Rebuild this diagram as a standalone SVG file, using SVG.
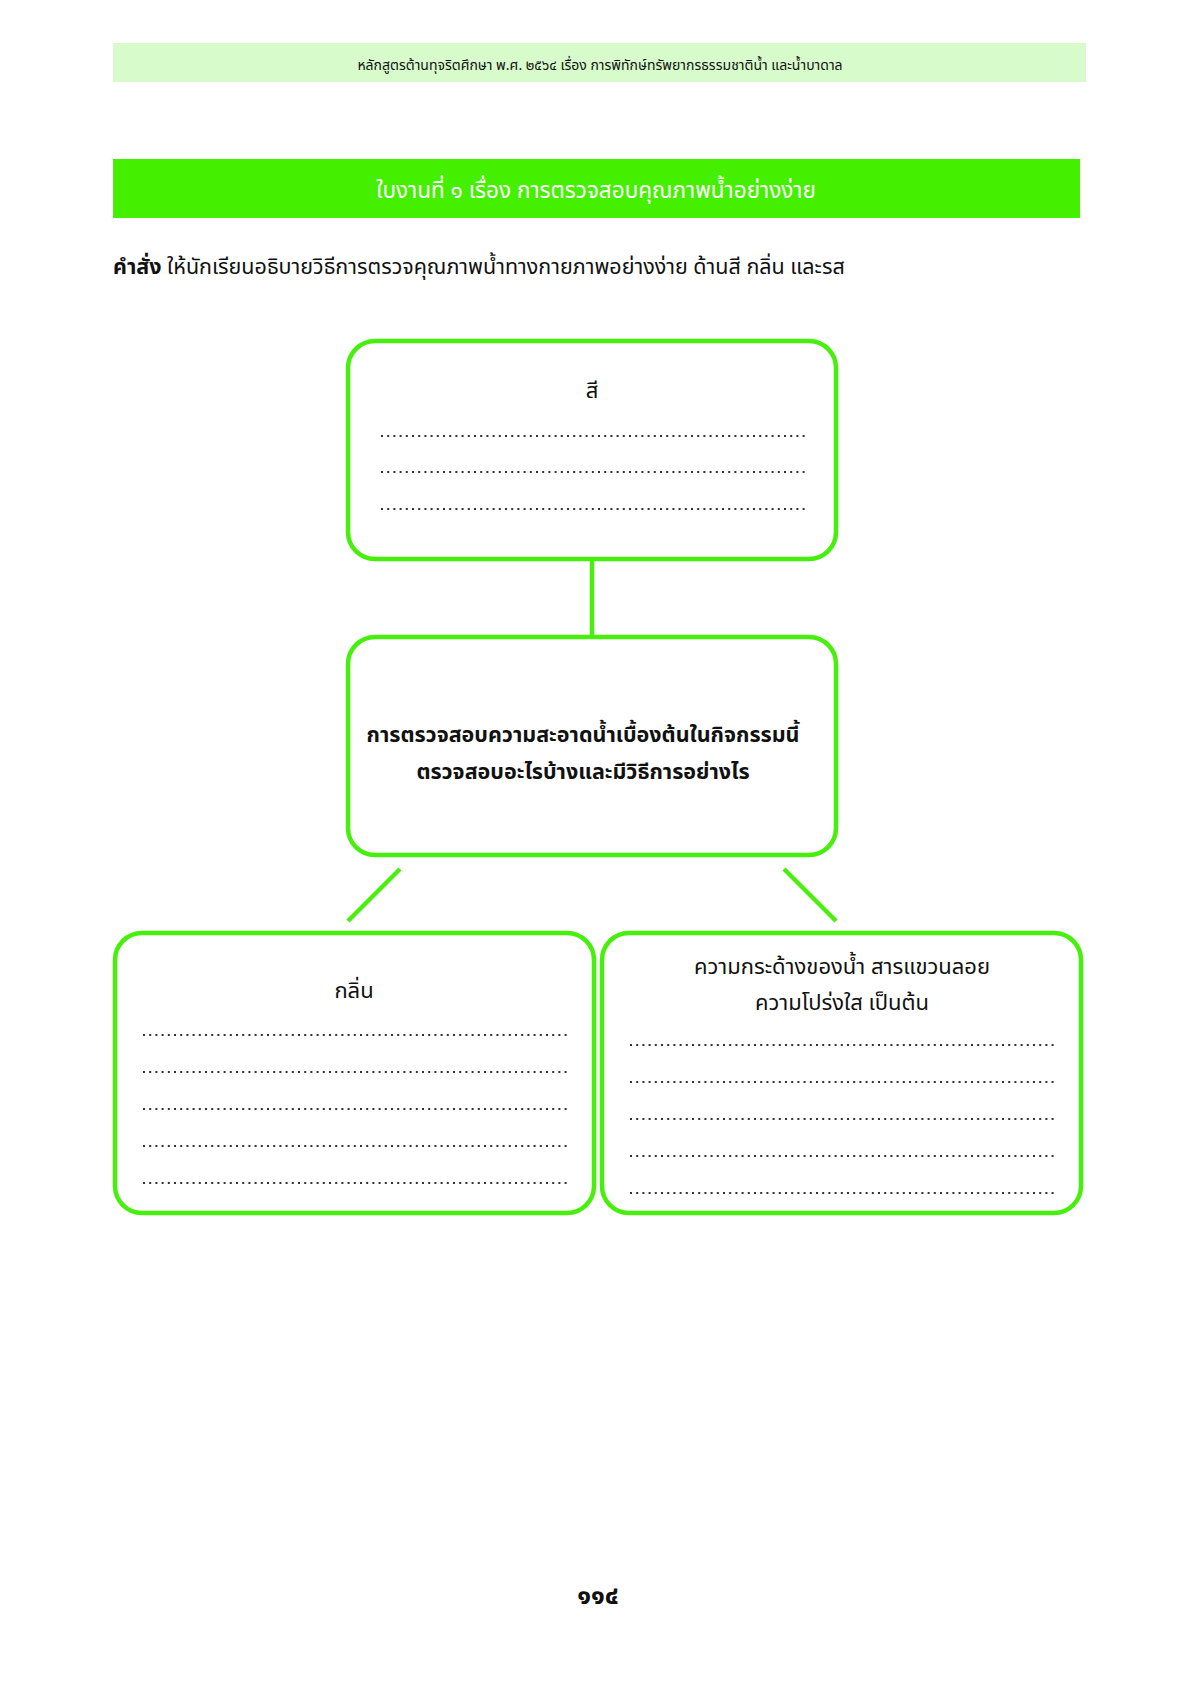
<svg xmlns="http://www.w3.org/2000/svg" width="1191" height="1684" viewBox="0 0 1191 1684">
<style>
text{font-family:"Noto Sans Thai","Noto Sans","DejaVu Sans",sans-serif;fill:#111}
.box{fill:#fff;stroke:#47f00c;stroke-width:4.5}
.conn{stroke:#47f00c;stroke-width:4.5;fill:none}
.dots{stroke:#333;stroke-width:2;stroke-dasharray:2 4.2}
.lbl{font-size:22px;text-anchor:middle}
</style>
<rect width="1191" height="1684" fill="#fff"/>
<g id="header">
<rect x="113" y="43" width="973" height="39" fill="#d8fbcc"/>
<text x="600" y="70" text-anchor="middle" style="font-size:14px">หลักสูตรต้านทุจริตศึกษา พ.ศ. ๒๕๖๔ เรื่อง การพิทักษ์ทรัพยากรธรรมชาติน้ำ และน้ำบาดาล</text>
</g>
<g id="title">
<rect x="113" y="159" width="967" height="59" fill="#44f000"/>
<text x="596" y="198" text-anchor="middle" style="font-size:22.5px;fill:#fff">ใบงานที่ ๑ เรื่อง การตรวจสอบคุณภาพน้ำอย่างง่าย</text>
</g>
<g id="instruction">
<text x="113" y="274" style="font-size:21.5px"><tspan font-weight="bold">คำสั่ง</tspan> ให้นักเรียนอธิบายวิธีการตรวจคุณภาพน้ำทางกายภาพอย่างง่าย ด้านสี กลิ่น และรส</text>
</g>
<g id="connectors">
<line class="conn" x1="592" y1="560" x2="592" y2="637"/>
<line class="conn" x1="400" y1="869" x2="348" y2="921"/>
<line class="conn" x1="784" y1="869" x2="836" y2="921"/>
</g>
<g id="node-color">
<rect class="box" x="348" y="341" width="488" height="218" rx="27"/>
<text class="lbl" x="592" y="398">สี</text>
<line class="dots" x1="381" y1="436" x2="806" y2="436"/>
<line class="dots" x1="381" y1="472" x2="806" y2="472"/>
<line class="dots" x1="381" y1="509" x2="806" y2="509"/>
</g>
<g id="node-center">
<rect class="box" x="348" y="637" width="488" height="218" rx="27"/>
<text x="583" y="742" text-anchor="middle" style="font-size:21.5px;font-weight:bold">การตรวจสอบความสะอาดน้ำเบื้องต้นในกิจกรรมนี้</text>
<text x="583" y="779" text-anchor="middle" style="font-size:21.5px;font-weight:bold">ตรวจสอบอะไรบ้างและมีวิธีการอย่างไร</text>
</g>
<g id="node-smell">
<rect class="box" x="115" y="933" width="479" height="280" rx="27"/>
<text class="lbl" x="354" y="998">กลิ่น</text>
<line class="dots" x1="143" y1="1035" x2="568" y2="1035"/>
<line class="dots" x1="143" y1="1072" x2="568" y2="1072"/>
<line class="dots" x1="143" y1="1109" x2="568" y2="1109"/>
<line class="dots" x1="143" y1="1146" x2="568" y2="1146"/>
<line class="dots" x1="143" y1="1183" x2="568" y2="1183"/>
</g>
<g id="node-other">
<rect class="box" x="602" y="933" width="479" height="280" rx="27"/>
<text class="lbl" x="842" y="974">ความกระด้างของน้ำ สารแขวนลอย</text>
<text class="lbl" x="842" y="1010">ความโปร่งใส เป็นต้น</text>
<line class="dots" x1="630" y1="1045" x2="1056" y2="1045"/>
<line class="dots" x1="630" y1="1082" x2="1056" y2="1082"/>
<line class="dots" x1="630" y1="1119" x2="1056" y2="1119"/>
<line class="dots" x1="630" y1="1156" x2="1056" y2="1156"/>
<line class="dots" x1="630" y1="1193" x2="1056" y2="1193"/>
</g>
<g id="footer">
<text x="598" y="1604" text-anchor="middle" style="font-size:26px;font-weight:bold">๑๑๔</text>
</g>
</svg>
